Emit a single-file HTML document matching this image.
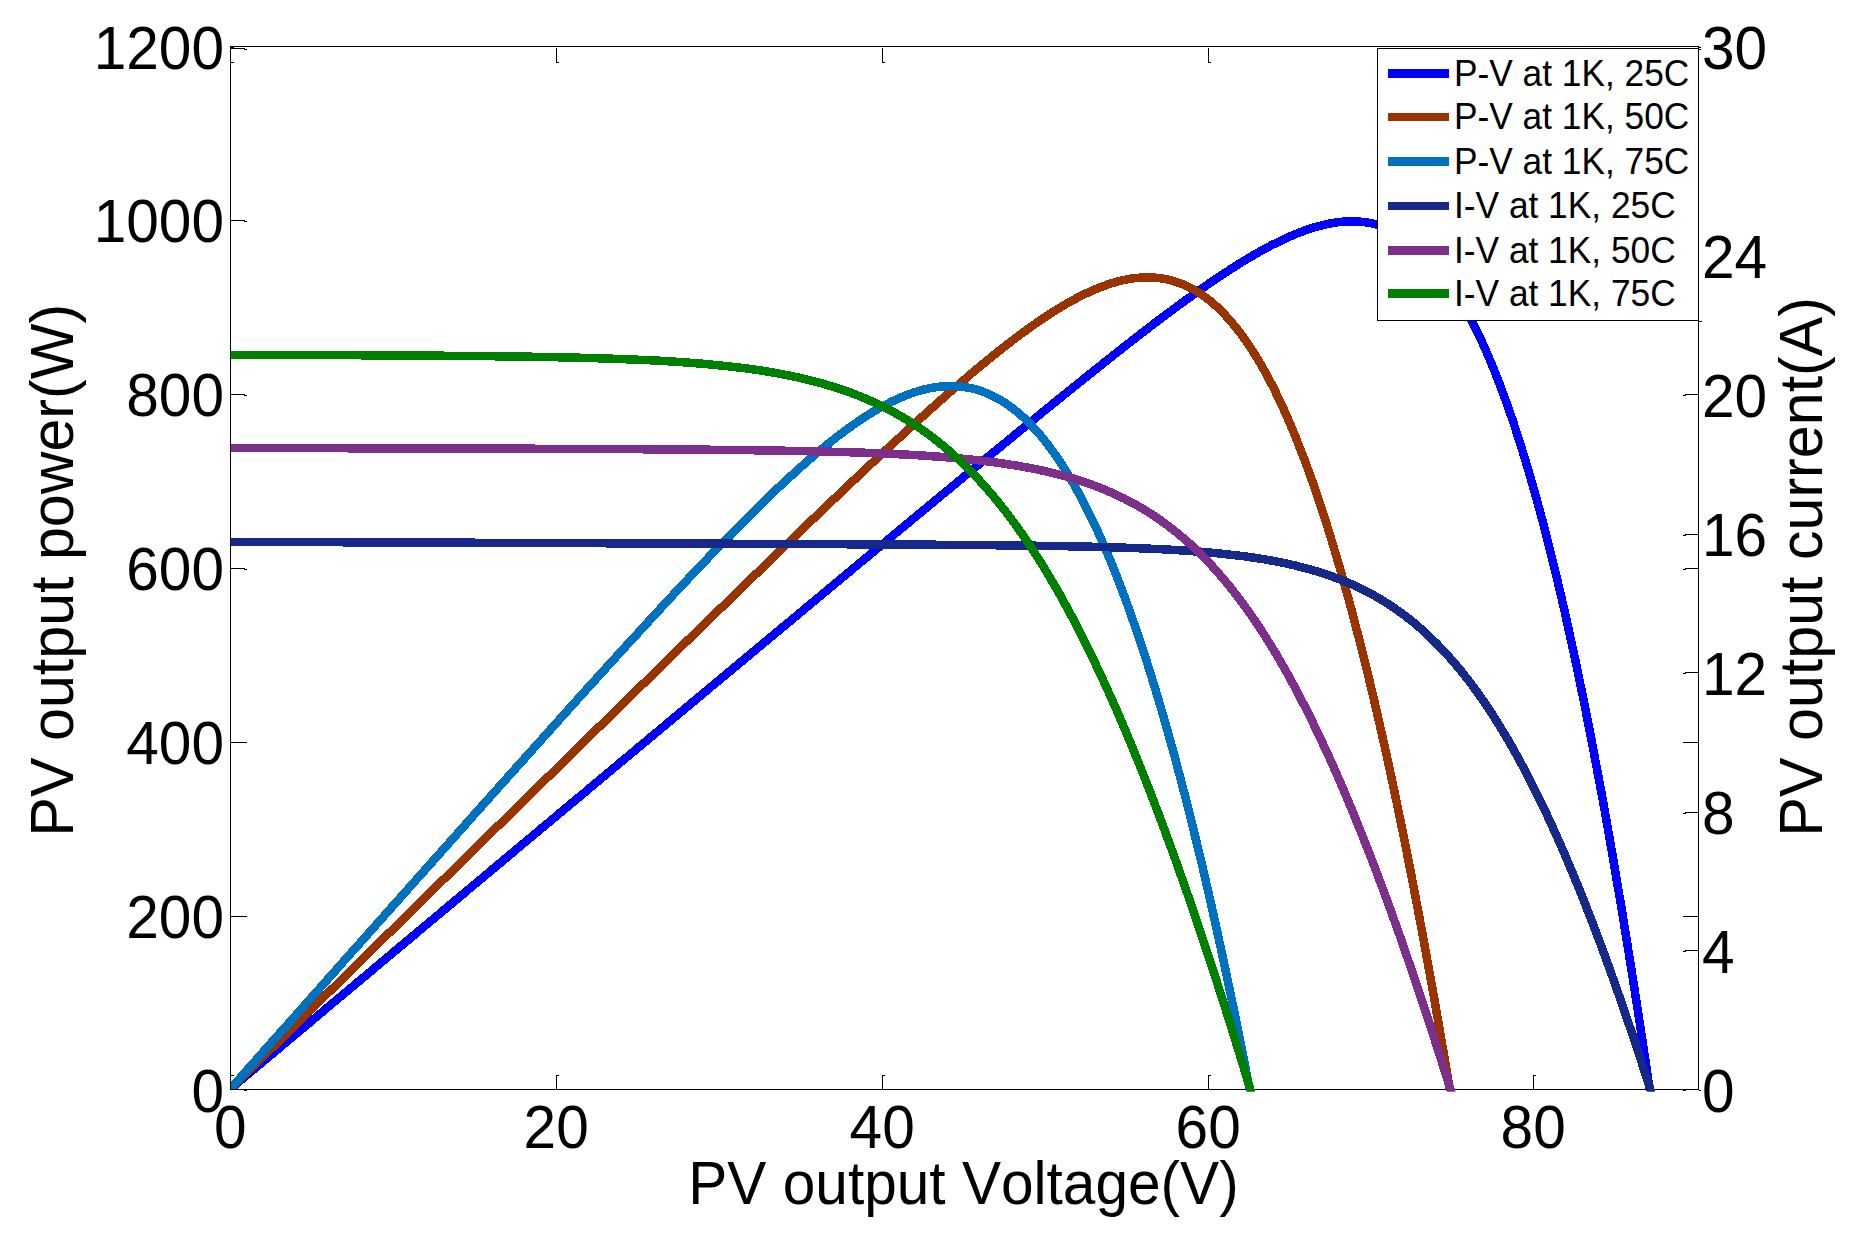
<!DOCTYPE html>
<html lang="en"><head><meta charset="utf-8"><title>PV output characteristics</title>
<style>html,body{margin:0;padding:0;background:#fff;}body{width:1855px;height:1237px;overflow:hidden;}</style></head>
<body>
<svg width="1855" height="1237" viewBox="0 0 1855 1237" style="display:block">
<rect width="1855" height="1237" fill="#fff"/>
<defs><clipPath id="c"><rect x="230" y="46" width="1469" height="1045.5"/></clipPath><clipPath id="c1"><rect x="231" y="46" width="1468" height="1044"/></clipPath></defs>
<g clip-path="url(#c1)" fill="none" stroke-linejoin="round" shape-rendering="crispEdges">
<defs><path id="pv25" d="M229.8 1089.5 L231.9 1087.7 L234.1 1085.9 L236.4 1084.0 L238.6 1082.1 L240.8 1080.2 L243.1 1078.4 L245.3 1076.5 L247.5 1074.6 L249.7 1072.8 L252.0 1070.9 L254.2 1069.0 L256.4 1067.2 L258.7 1065.3 L260.9 1063.4 L263.1 1061.5 L265.3 1059.7 L267.6 1057.8 L269.8 1055.9 L272.0 1054.1 L274.3 1052.2 L276.5 1050.3 L278.7 1048.5 L280.9 1046.6 L283.2 1044.7 L285.4 1042.8 L287.6 1041.0 L289.9 1039.1 L292.1 1037.2 L294.3 1035.4 L296.5 1033.5 L298.8 1031.6 L301.0 1029.8 L303.2 1027.9 L305.5 1026.0 L307.7 1024.2 L309.9 1022.3 L312.1 1020.4 L314.4 1018.5 L316.6 1016.7 L318.8 1014.8 L321.1 1012.9 L323.3 1011.1 L325.5 1009.2 L327.7 1007.3 L330.0 1005.5 L332.2 1003.6 L334.4 1001.7 L336.7 999.9 L338.9 998.0 L341.1 996.1 L343.3 994.3 L345.6 992.4 L347.8 990.5 L350.0 988.7 L352.3 986.8 L354.5 984.9 L356.7 983.1 L358.9 981.2 L361.2 979.3 L363.4 977.5 L365.6 975.6 L367.9 973.7 L370.1 971.9 L372.3 970.0 L374.5 968.1 L376.8 966.2 L379.0 964.4 L381.2 962.5 L383.5 960.6 L385.7 958.8 L387.9 956.9 L390.2 955.0 L392.4 953.2 L394.6 951.3 L396.8 949.4 L399.1 947.6 L401.3 945.7 L403.5 943.8 L405.8 942.0 L408.0 940.1 L410.2 938.2 L412.4 936.4 L414.7 934.5 L416.9 932.7 L419.1 930.8 L421.4 928.9 L423.6 927.1 L425.8 925.2 L428.0 923.3 L430.3 921.5 L432.5 919.6 L434.7 917.7 L437.0 915.9 L439.2 914.0 L441.4 912.1 L443.6 910.3 L445.9 908.4 L448.1 906.5 L450.3 904.7 L452.6 902.8 L454.8 900.9 L457.0 899.1 L459.2 897.2 L461.5 895.3 L463.7 893.5 L465.9 891.6 L468.2 889.7 L470.4 887.9 L472.6 886.0 L474.8 884.2 L477.1 882.3 L479.3 880.4 L481.5 878.6 L483.8 876.7 L486.0 874.8 L488.2 873.0 L490.4 871.1 L492.7 869.2 L494.9 867.4 L497.1 865.5 L499.4 863.6 L501.6 861.8 L503.8 859.9 L506.0 858.1 L508.3 856.2 L510.5 854.3 L512.7 852.5 L515.0 850.6 L517.2 848.7 L519.4 846.9 L521.6 845.0 L523.9 843.1 L526.1 841.3 L528.3 839.4 L530.6 837.6 L532.8 835.7 L535.0 833.8 L537.2 832.0 L539.5 830.1 L541.7 828.2 L543.9 826.4 L546.2 824.5 L548.4 822.7 L550.6 820.8 L552.9 818.9 L555.1 817.1 L557.3 815.2 L559.5 813.3 L561.8 811.5 L564.0 809.6 L566.2 807.8 L568.5 805.9 L570.7 804.0 L572.9 802.2 L575.1 800.3 L577.4 798.4 L579.6 796.6 L581.8 794.7 L584.1 792.9 L586.3 791.0 L588.5 789.1 L590.7 787.3 L593.0 785.4 L595.2 783.6 L597.4 781.7 L599.7 779.8 L601.9 778.0 L604.1 776.1 L606.3 774.2 L608.6 772.4 L610.8 770.5 L613.0 768.7 L615.3 766.8 L617.5 764.9 L619.7 763.1 L621.9 761.2 L624.2 759.4 L626.4 757.5 L628.6 755.6 L630.9 753.8 L633.1 751.9 L635.3 750.1 L637.5 748.2 L639.8 746.3 L642.0 744.5 L644.2 742.6 L646.5 740.8 L648.7 738.9 L650.9 737.0 L653.1 735.2 L655.4 733.3 L657.6 731.5 L659.8 729.6 L662.1 727.7 L664.3 725.9 L666.5 724.0 L668.7 722.2 L671.0 720.3 L673.2 718.4 L675.4 716.6 L677.7 714.7 L679.9 712.9 L682.1 711.0 L684.3 709.2 L686.6 707.3 L688.8 705.4 L691.0 703.6 L693.3 701.7 L695.5 699.9 L697.7 698.0 L700.0 696.1 L702.2 694.3 L704.4 692.4 L706.6 690.6 L708.9 688.7 L711.1 686.8 L713.3 685.0 L715.6 683.1 L717.8 681.3 L720.0 679.4 L722.2 677.6 L724.5 675.7 L726.7 673.8 L728.9 672.0 L731.2 670.1 L733.4 668.3 L735.6 666.4 L737.8 664.6 L740.1 662.7 L742.3 660.8 L744.5 659.0 L746.8 657.1 L749.0 655.3 L751.2 653.4 L753.4 651.6 L755.7 649.7 L757.9 647.8 L760.1 646.0 L762.4 644.1 L764.6 642.3 L766.8 640.4 L769.0 638.6 L771.3 636.7 L773.5 634.9 L775.7 633.0 L778.0 631.1 L780.2 629.3 L782.4 627.4 L784.6 625.6 L786.9 623.7 L789.1 621.9 L791.3 620.0 L793.6 618.2 L795.8 616.3 L798.0 614.4 L800.3 612.6 L802.5 610.7 L804.7 608.9 L806.9 607.0 L809.2 605.2 L811.4 603.3 L813.6 601.5 L815.9 599.6 L818.1 597.8 L820.3 595.9 L822.5 594.0 L824.8 592.2 L827.0 590.3 L829.2 588.5 L831.5 586.6 L833.7 584.8 L835.9 582.9 L838.1 581.1 L840.4 579.2 L842.6 577.4 L844.8 575.5 L847.1 573.7 L849.3 571.8 L851.5 570.0 L853.7 568.1 L856.0 566.2 L858.2 564.4 L860.4 562.5 L862.7 560.7 L864.9 558.8 L867.1 557.0 L869.4 555.1 L871.6 553.3 L873.8 551.4 L876.0 549.6 L878.3 547.7 L880.5 545.9 L882.7 544.0 L885.0 542.2 L887.2 540.3 L889.4 538.5 L891.6 536.6 L893.9 534.8 L896.1 532.9 L898.3 531.1 L900.6 529.2 L902.8 527.4 L905.0 525.5 L907.3 523.7 L909.5 521.8 L911.7 520.0 L913.9 518.1 L916.2 516.3 L918.4 514.4 L920.6 512.6 L922.9 510.8 L925.1 508.9 L927.3 507.1 L929.6 505.2 L931.8 503.4 L934.0 501.5 L936.2 499.7 L938.5 497.8 L940.7 496.0 L942.9 494.1 L945.2 492.3 L947.4 490.5 L949.6 488.6 L951.9 486.8 L954.1 484.9 L956.3 483.1 L958.5 481.2 L960.8 479.4 L963.0 477.6 L965.2 475.7 L967.5 473.9 L969.7 472.0 L971.9 470.2 L974.2 468.4 L976.4 466.5 L978.6 464.7 L980.8 462.8 L983.1 461.0 L985.3 459.2 L987.5 457.3 L989.8 455.5 L992.0 453.7 L994.2 451.8 L996.5 450.0 L998.7 448.2 L1000.9 446.3 L1003.2 444.5 L1005.4 442.7 L1007.6 440.8 L1009.9 439.0 L1012.1 437.2 L1014.3 435.3 L1016.5 433.5 L1018.8 431.7 L1021.0 429.8 L1023.2 428.0 L1025.5 426.2 L1027.7 424.4 L1029.9 422.5 L1032.2 420.7 L1034.4 418.9 L1036.6 417.1 L1038.9 415.3 L1041.1 413.4 L1043.3 411.6 L1045.6 409.8 L1047.8 408.0 L1050.0 406.2 L1052.3 404.4 L1054.5 402.5 L1056.7 400.7 L1059.0 398.9 L1061.2 397.1 L1063.4 395.3 L1065.7 393.5 L1067.9 391.7 L1070.1 389.9 L1072.4 388.1 L1074.6 386.3 L1076.9 384.5 L1079.1 382.7 L1081.3 380.9 L1083.6 379.1 L1085.8 377.3 L1088.0 375.5 L1090.3 373.7 L1092.5 371.9 L1094.7 370.1 L1097.0 368.3 L1099.2 366.6 L1101.5 364.8 L1103.7 363.0 L1105.9 361.2 L1108.2 359.4 L1110.4 357.7 L1112.6 355.9 L1114.9 354.1 L1117.1 352.4 L1119.4 350.6 L1121.6 348.8 L1123.8 347.1 L1126.1 345.3 L1128.3 343.6 L1130.6 341.8 L1132.8 340.1 L1135.1 338.3 L1137.3 336.6 L1139.5 334.9 L1141.8 333.1 L1144.0 331.4 L1146.3 329.7 L1148.5 328.0 L1150.8 326.2 L1153.0 324.5 L1155.2 322.8 L1157.5 321.1 L1159.7 319.4 L1162.0 317.7 L1164.2 316.0 L1166.5 314.3 L1168.7 312.7 L1171.0 311.0 L1173.2 309.3 L1175.5 307.7 L1177.7 306.0 L1180.0 304.3 L1182.2 302.7 L1184.5 301.0 L1186.7 299.4 L1189.0 297.8 L1191.3 296.2 L1193.5 294.5 L1195.8 292.9 L1198.0 291.3 L1200.3 289.7 L1202.5 288.1 L1204.8 286.6 L1207.1 285.0 L1209.3 283.4 L1211.6 281.9 L1213.9 280.3 L1216.1 278.8 L1218.4 277.3 L1220.6 275.8 L1222.9 274.3 L1225.2 272.8 L1227.5 271.3 L1229.7 269.8 L1232.0 268.3 L1234.3 266.9 L1236.5 265.5 L1238.8 264.0 L1241.1 262.6 L1243.4 261.2 L1245.7 259.8 L1247.9 258.5 L1250.2 257.1 L1252.5 255.8 L1254.8 254.4 L1257.1 253.1 L1259.4 251.8 L1261.7 250.5 L1264.0 249.3 L1266.3 248.0 L1268.5 246.8 L1270.8 245.6 L1273.1 244.4 L1275.5 243.3 L1277.8 242.1 L1280.1 241.0 L1282.4 239.9 L1284.7 238.8 L1287.0 237.8 L1289.3 236.7 L1291.6 235.7 L1294.0 234.7 L1296.3 233.8 L1298.6 232.9 L1300.9 232.0 L1303.3 231.1 L1305.6 230.2 L1307.9 229.4 L1310.3 228.7 L1312.6 227.9 L1315.0 227.2 L1317.3 226.5 L1319.7 225.9 L1322.0 225.3 L1324.4 224.7 L1326.8 224.2 L1329.1 223.7 L1331.5 223.3 L1333.9 222.8 L1336.3 222.5 L1338.6 222.2 L1341.0 221.9 L1343.4 221.7 L1345.8 221.5 L1348.2 221.4 L1350.6 221.4 L1353.1 221.3 L1355.5 221.4 L1357.9 221.5 L1360.3 221.7 L1362.8 221.9 L1365.2 222.2 L1367.7 222.5 L1370.1 223.0 L1372.6 223.5 L1375.0 224.0 L1377.5 224.7 L1380.0 225.4 L1382.5 226.2 L1385.0 227.1 L1387.5 228.0 L1390.0 229.1 L1392.5 230.2 L1395.0 231.4 L1397.6 232.8 L1400.1 234.2 L1402.7 235.7 L1405.2 237.4 L1407.8 239.1 L1410.4 240.9 L1413.0 242.9 L1415.6 245.0 L1418.2 247.2 L1420.8 249.5 L1423.4 252.0 L1426.1 254.5 L1428.7 257.3 L1431.4 260.1 L1434.1 263.1 L1436.8 266.3 L1439.5 269.6 L1442.2 273.1 L1445.0 276.8 L1447.7 280.6 L1450.5 284.6 L1453.3 288.7 L1456.1 293.1 L1458.9 297.7 L1461.7 302.4 L1464.5 307.4 L1467.4 312.6 L1470.3 318.0 L1473.2 323.6 L1476.1 329.5 L1479.0 335.6 L1482.0 341.9 L1485.0 348.5 L1488.0 355.4 L1491.0 362.5 L1494.1 370.0 L1497.1 377.7 L1500.2 385.7 L1503.3 394.1 L1506.5 402.7 L1509.7 411.7 L1512.9 421.1 L1516.1 430.8 L1519.3 440.9 L1522.6 451.3 L1525.9 462.1 L1529.3 473.4 L1532.6 485.0 L1536.0 497.1 L1539.5 509.7 L1543.0 522.7 L1546.5 536.1 L1550.0 550.1 L1553.6 564.6 L1557.2 579.6 L1560.9 595.2 L1564.6 611.3 L1568.3 628.0 L1572.1 645.3 L1576.0 663.2 L1579.8 681.7 L1583.8 701.0 L1587.7 720.9 L1591.8 741.5 L1595.8 762.9 L1600.0 785.0 L1604.2 807.9 L1608.4 831.7 L1612.7 856.3 L1617.0 881.7 L1621.5 908.1 L1625.9 935.4 L1630.5 963.7 L1635.1 992.9 L1639.8 1023.2 L1644.5 1054.6 L1649.3 1087.2 L1654.2 1120.8 L1659.2 1155.7 L1664.2 1191.8"/></defs><use href="#pv25" stroke="#0000ff" stroke-width="6.5" shape-rendering="auto"/><use href="#pv25" stroke="#0000ff" stroke-width="8.5" shape-rendering="crispEdges"/>
<defs><path id="pv50" d="M229.8 1089.5 L231.7 1087.6 L233.7 1085.7 L235.6 1083.8 L237.6 1081.9 L239.5 1080.0 L241.4 1078.1 L243.4 1076.1 L245.3 1074.2 L247.3 1072.3 L249.2 1070.4 L251.2 1068.5 L253.1 1066.6 L255.0 1064.7 L257.0 1062.8 L258.9 1060.9 L260.9 1059.0 L262.8 1057.0 L264.7 1055.1 L266.7 1053.2 L268.6 1051.3 L270.6 1049.4 L272.5 1047.5 L274.5 1045.6 L276.4 1043.7 L278.3 1041.8 L280.3 1039.9 L282.2 1038.0 L284.2 1036.1 L286.1 1034.1 L288.1 1032.2 L290.0 1030.3 L291.9 1028.4 L293.9 1026.5 L295.8 1024.6 L297.8 1022.7 L299.7 1020.8 L301.7 1018.9 L303.6 1017.0 L305.5 1015.1 L307.5 1013.1 L309.4 1011.2 L311.4 1009.3 L313.3 1007.4 L315.2 1005.5 L317.2 1003.6 L319.1 1001.7 L321.1 999.8 L323.0 997.9 L325.0 996.0 L326.9 994.1 L328.8 992.2 L330.8 990.2 L332.7 988.3 L334.7 986.4 L336.6 984.5 L338.6 982.6 L340.5 980.7 L342.4 978.8 L344.4 976.9 L346.3 975.0 L348.3 973.1 L350.2 971.2 L352.1 969.3 L354.1 967.3 L356.0 965.4 L358.0 963.5 L359.9 961.6 L361.9 959.7 L363.8 957.8 L365.7 955.9 L367.7 954.0 L369.6 952.1 L371.6 950.2 L373.5 948.3 L375.5 946.4 L377.4 944.5 L379.3 942.5 L381.3 940.6 L383.2 938.7 L385.2 936.8 L387.1 934.9 L389.0 933.0 L391.0 931.1 L392.9 929.2 L394.9 927.3 L396.8 925.4 L398.8 923.5 L400.7 921.6 L402.6 919.7 L404.6 917.7 L406.5 915.8 L408.5 913.9 L410.4 912.0 L412.4 910.1 L414.3 908.2 L416.2 906.3 L418.2 904.4 L420.1 902.5 L422.1 900.6 L424.0 898.7 L426.0 896.8 L427.9 894.9 L429.8 893.0 L431.8 891.0 L433.7 889.1 L435.7 887.2 L437.6 885.3 L439.5 883.4 L441.5 881.5 L443.4 879.6 L445.4 877.7 L447.3 875.8 L449.3 873.9 L451.2 872.0 L453.1 870.1 L455.1 868.2 L457.0 866.3 L459.0 864.4 L460.9 862.4 L462.9 860.5 L464.8 858.6 L466.7 856.7 L468.7 854.8 L470.6 852.9 L472.6 851.0 L474.5 849.1 L476.5 847.2 L478.4 845.3 L480.3 843.4 L482.3 841.5 L484.2 839.6 L486.2 837.7 L488.1 835.8 L490.0 833.9 L492.0 832.0 L493.9 830.0 L495.9 828.1 L497.8 826.2 L499.8 824.3 L501.7 822.4 L503.6 820.5 L505.6 818.6 L507.5 816.7 L509.5 814.8 L511.4 812.9 L513.4 811.0 L515.3 809.1 L517.2 807.2 L519.2 805.3 L521.1 803.4 L523.1 801.5 L525.0 799.6 L527.0 797.7 L528.9 795.8 L530.8 793.8 L532.8 791.9 L534.7 790.0 L536.7 788.1 L538.6 786.2 L540.6 784.3 L542.5 782.4 L544.4 780.5 L546.4 778.6 L548.3 776.7 L550.3 774.8 L552.2 772.9 L554.2 771.0 L556.1 769.1 L558.0 767.2 L560.0 765.3 L561.9 763.4 L563.9 761.5 L565.8 759.6 L567.8 757.7 L569.7 755.8 L571.6 753.9 L573.6 752.0 L575.5 750.1 L577.5 748.2 L579.4 746.2 L581.4 744.3 L583.3 742.4 L585.2 740.5 L587.2 738.6 L589.1 736.7 L591.1 734.8 L593.0 732.9 L595.0 731.0 L596.9 729.1 L598.8 727.2 L600.8 725.3 L602.7 723.4 L604.7 721.5 L606.6 719.6 L608.6 717.7 L610.5 715.8 L612.4 713.9 L614.4 712.0 L616.3 710.1 L618.3 708.2 L620.2 706.3 L622.2 704.4 L624.1 702.5 L626.0 700.6 L628.0 698.7 L629.9 696.8 L631.9 694.9 L633.8 693.0 L635.8 691.1 L637.7 689.2 L639.7 687.3 L641.6 685.4 L643.5 683.5 L645.5 681.6 L647.4 679.7 L649.4 677.8 L651.3 675.9 L653.3 674.0 L655.2 672.1 L657.1 670.2 L659.1 668.3 L661.0 666.4 L663.0 664.5 L664.9 662.6 L666.9 660.7 L668.8 658.8 L670.8 656.9 L672.7 655.0 L674.6 653.1 L676.6 651.2 L678.5 649.3 L680.5 647.4 L682.4 645.5 L684.4 643.6 L686.3 641.7 L688.2 639.8 L690.2 638.0 L692.1 636.1 L694.1 634.2 L696.0 632.3 L698.0 630.4 L699.9 628.5 L701.9 626.6 L703.8 624.7 L705.7 622.8 L707.7 620.9 L709.6 619.0 L711.6 617.1 L713.5 615.2 L715.5 613.3 L717.4 611.4 L719.4 609.5 L721.3 607.7 L723.3 605.8 L725.2 603.9 L727.1 602.0 L729.1 600.1 L731.0 598.2 L733.0 596.3 L734.9 594.4 L736.9 592.5 L738.8 590.6 L740.8 588.8 L742.7 586.9 L744.7 585.0 L746.6 583.1 L748.5 581.2 L750.5 579.3 L752.4 577.4 L754.4 575.5 L756.3 573.7 L758.3 571.8 L760.2 569.9 L762.2 568.0 L764.1 566.1 L766.1 564.2 L768.0 562.4 L770.0 560.5 L771.9 558.6 L773.9 556.7 L775.8 554.8 L777.7 552.9 L779.7 551.1 L781.6 549.2 L783.6 547.3 L785.5 545.4 L787.5 543.6 L789.4 541.7 L791.4 539.8 L793.3 537.9 L795.3 536.1 L797.2 534.2 L799.2 532.3 L801.1 530.4 L803.1 528.6 L805.0 526.7 L807.0 524.8 L808.9 523.0 L810.9 521.1 L812.8 519.2 L814.8 517.3 L816.7 515.5 L818.7 513.6 L820.6 511.7 L822.6 509.9 L824.5 508.0 L826.5 506.2 L828.4 504.3 L830.4 502.4 L832.3 500.6 L834.3 498.7 L836.2 496.9 L838.2 495.0 L840.1 493.2 L842.1 491.3 L844.0 489.4 L846.0 487.6 L847.9 485.7 L849.9 483.9 L851.8 482.0 L853.8 480.2 L855.7 478.4 L857.7 476.5 L859.7 474.7 L861.6 472.8 L863.6 471.0 L865.5 469.1 L867.5 467.3 L869.4 465.5 L871.4 463.6 L873.3 461.8 L875.3 460.0 L877.2 458.2 L879.2 456.3 L881.2 454.5 L883.1 452.7 L885.1 450.9 L887.0 449.0 L889.0 447.2 L890.9 445.4 L892.9 443.6 L894.9 441.8 L896.8 440.0 L898.8 438.2 L900.7 436.4 L902.7 434.5 L904.7 432.7 L906.6 430.9 L908.6 429.2 L910.5 427.4 L912.5 425.6 L914.5 423.8 L916.4 422.0 L918.4 420.2 L920.4 418.4 L922.3 416.7 L924.3 414.9 L926.3 413.1 L928.2 411.3 L930.2 409.6 L932.2 407.8 L934.1 406.1 L936.1 404.3 L938.1 402.6 L940.0 400.8 L942.0 399.1 L944.0 397.3 L945.9 395.6 L947.9 393.9 L949.9 392.1 L951.8 390.4 L953.8 388.7 L955.8 387.0 L957.8 385.3 L959.7 383.6 L961.7 381.9 L963.7 380.2 L965.7 378.5 L967.7 376.8 L969.6 375.1 L971.6 373.4 L973.6 371.7 L975.6 370.1 L977.6 368.4 L979.5 366.8 L981.5 365.1 L983.5 363.5 L985.5 361.8 L987.5 360.2 L989.5 358.6 L991.5 357.0 L993.4 355.4 L995.4 353.8 L997.4 352.2 L999.4 350.6 L1001.4 349.0 L1003.4 347.4 L1005.4 345.9 L1007.4 344.3 L1009.4 342.8 L1011.4 341.3 L1013.4 339.7 L1015.4 338.2 L1017.4 336.7 L1019.4 335.2 L1021.4 333.7 L1023.4 332.2 L1025.4 330.8 L1027.4 329.3 L1029.5 327.9 L1031.5 326.4 L1033.5 325.0 L1035.5 323.6 L1037.5 322.2 L1039.5 320.8 L1041.6 319.4 L1043.6 318.1 L1045.6 316.7 L1047.6 315.4 L1049.7 314.1 L1051.7 312.8 L1053.7 311.5 L1055.8 310.2 L1057.8 308.9 L1059.8 307.7 L1061.9 306.5 L1063.9 305.2 L1066.0 304.0 L1068.0 302.9 L1070.1 301.7 L1072.1 300.6 L1074.2 299.5 L1076.2 298.4 L1078.3 297.3 L1080.4 296.2 L1082.4 295.2 L1084.5 294.2 L1086.6 293.2 L1088.7 292.2 L1090.7 291.3 L1092.8 290.3 L1094.9 289.4 L1097.0 288.6 L1099.1 287.7 L1101.2 286.9 L1103.3 286.1 L1105.4 285.4 L1107.5 284.6 L1109.6 283.9 L1111.7 283.2 L1113.8 282.6 L1115.9 282.0 L1118.1 281.4 L1120.2 280.9 L1122.3 280.4 L1124.5 279.9 L1126.6 279.5 L1128.8 279.1 L1130.9 278.7 L1133.1 278.4 L1135.2 278.1 L1137.4 277.9 L1139.6 277.7 L1141.7 277.6 L1143.9 277.5 L1146.1 277.4 L1148.3 277.4 L1150.5 277.4 L1152.7 277.5 L1154.9 277.7 L1157.2 277.9 L1159.4 278.1 L1161.6 278.4 L1163.8 278.8 L1166.1 279.2 L1168.3 279.7 L1170.6 280.3 L1172.9 280.9 L1175.2 281.6 L1177.4 282.3 L1179.7 283.2 L1182.0 284.0 L1184.3 285.0 L1186.7 286.1 L1189.0 287.2 L1191.3 288.4 L1193.7 289.7 L1196.0 291.0 L1198.4 292.5 L1200.8 294.0 L1203.1 295.7 L1205.5 297.4 L1207.9 299.2 L1210.4 301.1 L1212.8 303.2 L1215.2 305.3 L1217.7 307.5 L1220.1 309.9 L1222.6 312.4 L1225.1 315.0 L1227.6 317.7 L1230.1 320.5 L1232.6 323.5 L1235.2 326.5 L1237.7 329.8 L1240.3 333.1 L1242.9 336.6 L1245.5 340.3 L1248.1 344.1 L1250.8 348.1 L1253.4 352.2 L1256.1 356.5 L1258.8 360.9 L1261.5 365.6 L1264.2 370.4 L1266.9 375.4 L1269.7 380.6 L1272.5 385.9 L1275.3 391.5 L1278.1 397.3 L1280.9 403.3 L1283.8 409.5 L1286.7 416.0 L1289.6 422.7 L1292.5 429.6 L1295.5 436.8 L1298.4 444.2 L1301.4 451.9 L1304.5 459.8 L1307.5 468.0 L1310.6 476.5 L1313.7 485.3 L1316.9 494.5 L1320.0 503.9 L1323.2 513.6 L1326.5 523.7 L1329.7 534.1 L1333.0 544.9 L1336.3 556.0 L1339.7 567.5 L1343.1 579.4 L1346.5 591.6 L1350.0 604.3 L1353.5 617.4 L1357.0 631.0 L1360.6 645.0 L1364.2 659.4 L1367.9 674.3 L1371.6 689.7 L1375.4 705.7 L1379.1 722.1 L1383.0 739.1 L1386.9 756.6 L1390.8 774.7 L1394.8 793.4 L1398.8 812.7 L1402.9 832.7 L1407.0 853.2 L1411.2 874.5 L1415.4 896.5 L1419.7 919.1 L1424.1 942.5 L1428.5 966.7 L1433.0 991.6 L1437.5 1017.4 L1442.1 1044.0 L1446.8 1071.5 L1451.5 1099.8 L1456.3 1129.1 L1461.2 1159.4 L1466.2 1190.6"/></defs><use href="#pv50" stroke="#993300" stroke-width="6.5" shape-rendering="auto"/><use href="#pv50" stroke="#993300" stroke-width="8.5" shape-rendering="crispEdges"/>
<defs><path id="pv75" d="M229.8 1089.5 L229.9 1089.4 L231.6 1087.5 L233.2 1085.6 L234.9 1083.8 L236.6 1081.9 L238.2 1080.0 L239.9 1078.2 L241.5 1076.3 L243.2 1074.4 L244.8 1072.6 L246.5 1070.7 L248.1 1068.8 L249.8 1067.0 L251.5 1065.1 L253.1 1063.2 L254.8 1061.4 L256.4 1059.5 L258.1 1057.7 L259.7 1055.8 L261.4 1053.9 L263.0 1052.1 L264.7 1050.2 L266.4 1048.3 L268.0 1046.5 L269.7 1044.6 L271.3 1042.7 L273.0 1040.9 L274.6 1039.0 L276.3 1037.1 L278.0 1035.3 L279.6 1033.4 L281.3 1031.6 L282.9 1029.7 L284.6 1027.8 L286.2 1026.0 L287.9 1024.1 L289.5 1022.2 L291.2 1020.4 L292.9 1018.5 L294.5 1016.6 L296.2 1014.8 L297.8 1012.9 L299.5 1011.1 L301.1 1009.2 L302.8 1007.3 L304.5 1005.5 L306.1 1003.6 L307.8 1001.7 L309.4 999.9 L311.1 998.0 L312.7 996.1 L314.4 994.3 L316.0 992.4 L317.7 990.6 L319.4 988.7 L321.0 986.8 L322.7 985.0 L324.3 983.1 L326.0 981.2 L327.6 979.4 L329.3 977.5 L331.0 975.6 L332.6 973.8 L334.3 971.9 L335.9 970.1 L337.6 968.2 L339.2 966.3 L340.9 964.5 L342.5 962.6 L344.2 960.7 L345.9 958.9 L347.5 957.0 L349.2 955.2 L350.8 953.3 L352.5 951.4 L354.1 949.6 L355.8 947.7 L357.5 945.8 L359.1 944.0 L360.8 942.1 L362.4 940.3 L364.1 938.4 L365.7 936.5 L367.4 934.7 L369.0 932.8 L370.7 930.9 L372.4 929.1 L374.0 927.2 L375.7 925.4 L377.3 923.5 L379.0 921.6 L380.6 919.8 L382.3 917.9 L384.0 916.0 L385.6 914.2 L387.3 912.3 L388.9 910.5 L390.6 908.6 L392.2 906.7 L393.9 904.9 L395.6 903.0 L397.2 901.2 L398.9 899.3 L400.5 897.4 L402.2 895.6 L403.8 893.7 L405.5 891.8 L407.2 890.0 L408.8 888.1 L410.5 886.3 L412.1 884.4 L413.8 882.5 L415.4 880.7 L417.1 878.8 L418.7 877.0 L420.4 875.1 L422.1 873.2 L423.7 871.4 L425.4 869.5 L427.0 867.7 L428.7 865.8 L430.3 863.9 L432.0 862.1 L433.7 860.2 L435.3 858.4 L437.0 856.5 L438.6 854.6 L440.3 852.8 L441.9 850.9 L443.6 849.1 L445.3 847.2 L446.9 845.3 L448.6 843.5 L450.2 841.6 L451.9 839.8 L453.6 837.9 L455.2 836.0 L456.9 834.2 L458.5 832.3 L460.2 830.5 L461.8 828.6 L463.5 826.7 L465.2 824.9 L466.8 823.0 L468.5 821.2 L470.1 819.3 L471.8 817.5 L473.4 815.6 L475.1 813.7 L476.8 811.9 L478.4 810.0 L480.1 808.2 L481.7 806.3 L483.4 804.5 L485.1 802.6 L486.7 800.7 L488.4 798.9 L490.0 797.0 L491.7 795.2 L493.3 793.3 L495.0 791.5 L496.7 789.6 L498.3 787.7 L500.0 785.9 L501.6 784.0 L503.3 782.2 L505.0 780.3 L506.6 778.5 L508.3 776.6 L509.9 774.8 L511.6 772.9 L513.2 771.1 L514.9 769.2 L516.6 767.3 L518.2 765.5 L519.9 763.6 L521.5 761.8 L523.2 759.9 L524.9 758.1 L526.5 756.2 L528.2 754.4 L529.8 752.5 L531.5 750.7 L533.2 748.8 L534.8 747.0 L536.5 745.1 L538.1 743.3 L539.8 741.4 L541.5 739.6 L543.1 737.7 L544.8 735.9 L546.4 734.0 L548.1 732.2 L549.8 730.3 L551.4 728.5 L553.1 726.6 L554.7 724.8 L556.4 722.9 L558.1 721.1 L559.7 719.2 L561.4 717.4 L563.1 715.5 L564.7 713.7 L566.4 711.9 L568.0 710.0 L569.7 708.2 L571.4 706.3 L573.0 704.5 L574.7 702.6 L576.3 700.8 L578.0 698.9 L579.7 697.1 L581.3 695.3 L583.0 693.4 L584.7 691.6 L586.3 689.7 L588.0 687.9 L589.7 686.1 L591.3 684.2 L593.0 682.4 L594.6 680.5 L596.3 678.7 L598.0 676.9 L599.6 675.0 L601.3 673.2 L603.0 671.4 L604.6 669.5 L606.3 667.7 L608.0 665.9 L609.6 664.0 L611.3 662.2 L613.0 660.4 L614.6 658.5 L616.3 656.7 L617.9 654.9 L619.6 653.1 L621.3 651.2 L622.9 649.4 L624.6 647.6 L626.3 645.7 L627.9 643.9 L629.6 642.1 L631.3 640.3 L632.9 638.5 L634.6 636.6 L636.3 634.8 L638.0 633.0 L639.6 631.2 L641.3 629.4 L643.0 627.5 L644.6 625.7 L646.3 623.9 L648.0 622.1 L649.6 620.3 L651.3 618.5 L653.0 616.7 L654.6 614.8 L656.3 613.0 L658.0 611.2 L659.7 609.4 L661.3 607.6 L663.0 605.8 L664.7 604.0 L666.3 602.2 L668.0 600.4 L669.7 598.6 L671.4 596.8 L673.0 595.0 L674.7 593.2 L676.4 591.4 L678.1 589.6 L679.7 587.9 L681.4 586.1 L683.1 584.3 L684.8 582.5 L686.4 580.7 L688.1 578.9 L689.8 577.2 L691.5 575.4 L693.2 573.6 L694.8 571.8 L696.5 570.1 L698.2 568.3 L699.9 566.5 L701.5 564.7 L703.2 563.0 L704.9 561.2 L706.6 559.5 L708.3 557.7 L710.0 555.9 L711.6 554.2 L713.3 552.4 L715.0 550.7 L716.7 548.9 L718.4 547.2 L720.1 545.5 L721.7 543.7 L723.4 542.0 L725.1 540.3 L726.8 538.5 L728.5 536.8 L730.2 535.1 L731.9 533.3 L733.6 531.6 L735.2 529.9 L736.9 528.2 L738.6 526.5 L740.3 524.8 L742.0 523.1 L743.7 521.4 L745.4 519.7 L747.1 518.0 L748.8 516.3 L750.5 514.6 L752.2 512.9 L753.9 511.2 L755.6 509.6 L757.3 507.9 L759.0 506.2 L760.7 504.6 L762.4 502.9 L764.1 501.3 L765.8 499.6 L767.5 498.0 L769.2 496.3 L770.9 494.7 L772.6 493.1 L774.3 491.4 L776.0 489.8 L777.7 488.2 L779.5 486.6 L781.2 485.0 L782.9 483.4 L784.6 481.8 L786.3 480.2 L788.0 478.6 L789.7 477.0 L791.5 475.5 L793.2 473.9 L794.9 472.3 L796.6 470.8 L798.3 469.2 L800.1 467.7 L801.8 466.2 L803.5 464.6 L805.2 463.1 L807.0 461.6 L808.7 460.1 L810.4 458.6 L812.2 457.1 L813.9 455.6 L815.6 454.2 L817.4 452.7 L819.1 451.2 L820.8 449.8 L822.6 448.4 L824.3 446.9 L826.1 445.5 L827.8 444.1 L829.6 442.7 L831.3 441.3 L833.1 439.9 L834.8 438.5 L836.6 437.2 L838.3 435.8 L840.1 434.5 L841.9 433.2 L843.6 431.8 L845.4 430.5 L847.1 429.2 L848.9 428.0 L850.7 426.7 L852.5 425.4 L854.2 424.2 L856.0 423.0 L857.8 421.7 L859.6 420.5 L861.3 419.3 L863.1 418.2 L864.9 417.0 L866.7 415.9 L868.5 414.7 L870.3 413.6 L872.1 412.5 L873.9 411.4 L875.7 410.3 L877.5 409.3 L879.3 408.3 L881.1 407.2 L882.9 406.2 L884.7 405.3 L886.6 404.3 L888.4 403.4 L890.2 402.4 L892.0 401.5 L893.9 400.6 L895.7 399.8 L897.5 398.9 L899.4 398.1 L901.2 397.3 L903.1 396.5 L904.9 395.8 L906.8 395.1 L908.6 394.3 L910.5 393.7 L912.4 393.0 L914.2 392.4 L916.1 391.8 L918.0 391.2 L919.9 390.6 L921.7 390.1 L923.6 389.6 L925.5 389.2 L927.4 388.7 L929.3 388.3 L931.2 388.0 L933.1 387.6 L935.1 387.3 L937.0 387.0 L938.9 386.8 L940.8 386.6 L942.8 386.4 L944.7 386.3 L946.7 386.2 L948.6 386.1 L950.6 386.1 L952.5 386.1 L954.5 386.1 L956.5 386.2 L958.4 386.4 L960.4 386.5 L962.4 386.8 L964.4 387.0 L966.4 387.4 L968.4 387.7 L970.4 388.1 L972.5 388.6 L974.5 389.1 L976.5 389.6 L978.6 390.3 L980.6 390.9 L982.7 391.6 L984.7 392.4 L986.8 393.2 L988.9 394.1 L991.0 395.1 L993.1 396.1 L995.2 397.1 L997.3 398.3 L999.4 399.5 L1001.5 400.7 L1003.6 402.0 L1005.8 403.4 L1007.9 404.9 L1010.1 406.4 L1012.3 408.1 L1014.5 409.7 L1016.6 411.5 L1018.8 413.4 L1021.1 415.3 L1023.3 417.3 L1025.5 419.4 L1027.7 421.6 L1030.0 423.8 L1032.2 426.2 L1034.5 428.6 L1036.8 431.2 L1039.1 433.8 L1041.4 436.5 L1043.7 439.4 L1046.0 442.3 L1048.4 445.3 L1050.7 448.5 L1053.1 451.8 L1055.5 455.1 L1057.9 458.6 L1060.3 462.2 L1062.7 466.0 L1065.1 469.8 L1067.6 473.8 L1070.1 477.9 L1072.5 482.1 L1075.0 486.5 L1077.5 491.0 L1080.1 495.6 L1082.6 500.4 L1085.2 505.4 L1087.7 510.5 L1090.3 515.7 L1092.9 521.1 L1095.5 526.7 L1098.2 532.4 L1100.8 538.3 L1103.5 544.4 L1106.2 550.7 L1108.9 557.1 L1111.7 563.7 L1114.4 570.5 L1117.2 577.6 L1120.0 584.8 L1122.8 592.2 L1125.6 599.8 L1128.5 607.6 L1131.3 615.7 L1134.2 624.0 L1137.2 632.5 L1140.1 641.3 L1143.1 650.2 L1146.1 659.5 L1149.1 669.0 L1152.1 678.7 L1155.2 688.8 L1158.3 699.0 L1161.4 709.6 L1164.6 720.5 L1167.7 731.6 L1170.9 743.1 L1174.2 754.8 L1177.4 766.9 L1180.7 779.3 L1184.0 792.0 L1187.4 805.1 L1190.7 818.5 L1194.1 832.3 L1197.6 846.4 L1201.1 860.9 L1204.6 875.8 L1208.1 891.1 L1211.7 906.8 L1215.3 922.9 L1218.9 939.4 L1222.6 956.4 L1226.3 973.8 L1230.1 991.7 L1233.9 1010.0 L1237.7 1028.8 L1241.6 1048.2 L1245.5 1068.0 L1249.4 1088.3 L1253.4 1109.2 L1257.5 1130.6 L1261.6 1152.6 L1265.7 1175.1"/></defs><use href="#pv75" stroke="#0070c0" stroke-width="6.5" shape-rendering="auto"/><use href="#pv75" stroke="#0070c0" stroke-width="8.5" shape-rendering="crispEdges"/>
</g>
<g fill="#000" shape-rendering="crispEdges">
<rect x="230" y="46" width="1469" height="1"/>
<rect x="230" y="1089" width="1469" height="1"/>
<rect x="230" y="46" width="1" height="1044"/>
<rect x="1698" y="46" width="1" height="1044"/>
<rect x="556" y="1075" width="1" height="15"/>
<rect x="556" y="1075" width="3" height="1"/>
<rect x="556" y="48" width="1" height="15"/>
<rect x="556" y="62" width="3" height="1"/>
<rect x="882" y="1075" width="1" height="15"/>
<rect x="882" y="1075" width="3" height="1"/>
<rect x="882" y="48" width="1" height="15"/>
<rect x="882" y="62" width="3" height="1"/>
<rect x="1208" y="1075" width="1" height="15"/>
<rect x="1208" y="1075" width="3" height="1"/>
<rect x="1208" y="48" width="1" height="15"/>
<rect x="1208" y="62" width="3" height="1"/>
<rect x="1533" y="1075" width="1" height="15"/>
<rect x="1533" y="1075" width="3" height="1"/>
<rect x="1533" y="48" width="1" height="15"/>
<rect x="1533" y="62" width="3" height="1"/>
<rect x="230" y="916" width="15" height="1"/>
<rect x="244" y="916" width="3" height="1"/>
<rect x="1685" y="916" width="14" height="1"/>
<rect x="1683" y="916" width="3" height="1"/>
<rect x="230" y="742" width="15" height="1"/>
<rect x="244" y="742" width="3" height="1"/>
<rect x="1685" y="742" width="14" height="1"/>
<rect x="1683" y="742" width="3" height="1"/>
<rect x="230" y="568" width="15" height="1"/>
<rect x="244" y="569" width="3" height="1"/>
<rect x="1685" y="568" width="14" height="1"/>
<rect x="1683" y="569" width="3" height="1"/>
<rect x="230" y="394" width="15" height="1"/>
<rect x="244" y="395" width="3" height="1"/>
<rect x="1685" y="394" width="14" height="1"/>
<rect x="1683" y="395" width="3" height="1"/>
<rect x="230" y="220" width="15" height="1"/>
<rect x="244" y="221" width="3" height="1"/>
<rect x="1685" y="220" width="14" height="1"/>
<rect x="1683" y="221" width="3" height="1"/>
<rect x="230" y="48" width="15" height="1"/>
<rect x="1685" y="950" width="14" height="1"/>
<rect x="1683" y="951" width="3" height="1"/>
<rect x="1685" y="812" width="14" height="1"/>
<rect x="1683" y="813" width="3" height="1"/>
<rect x="1685" y="672" width="14" height="1"/>
<rect x="1683" y="673" width="3" height="1"/>
<rect x="1685" y="534" width="14" height="1"/>
<rect x="1683" y="535" width="3" height="1"/>
<rect x="1685" y="394" width="14" height="1"/>
<rect x="1683" y="395" width="3" height="1"/>
<rect x="1685" y="255" width="14" height="1"/>
<rect x="1683" y="256" width="3" height="1"/>
<rect x="230" y="62" width="4" height="1"/>
<rect x="244" y="49" width="3" height="1"/>
<rect x="230" y="47" width="4" height="1"/>
<rect x="230" y="1075" width="4" height="1"/>
<rect x="244" y="1090" width="3" height="1"/>
<rect x="1683" y="1090" width="3" height="1"/>
<rect x="1699" y="1090" width="2" height="1"/>
<rect x="1699" y="47" width="2" height="1"/>
<rect x="1699" y="49" width="2" height="1"/>
<rect x="1699" y="321" width="3" height="1"/>
</g>
<g clip-path="url(#c)" fill="none" stroke-linejoin="round" shape-rendering="crispEdges">
<defs><path id="iv25" d="M230.5 541.8 L232.6 541.8 L234.8 541.8 L237.1 541.9 L239.3 541.9 L241.5 541.9 L243.8 541.9 L246.0 541.9 L248.2 541.9 L250.4 541.9 L252.7 541.9 L254.9 541.9 L257.1 541.9 L259.4 541.9 L261.6 541.9 L263.8 542.0 L266.0 542.0 L268.3 542.0 L270.5 542.0 L272.7 542.0 L275.0 542.0 L277.2 542.0 L279.4 542.0 L281.6 542.0 L283.9 542.0 L286.1 542.0 L288.3 542.0 L290.6 542.1 L292.8 542.1 L295.0 542.1 L297.2 542.1 L299.5 542.1 L301.7 542.1 L303.9 542.1 L306.2 542.1 L308.4 542.1 L310.6 542.1 L312.8 542.1 L315.1 542.1 L317.3 542.2 L319.5 542.2 L321.8 542.2 L324.0 542.2 L326.2 542.2 L328.4 542.2 L330.7 542.2 L332.9 542.2 L335.1 542.2 L337.4 542.2 L339.6 542.2 L341.8 542.2 L344.0 542.3 L346.3 542.3 L348.5 542.3 L350.7 542.3 L353.0 542.3 L355.2 542.3 L357.4 542.3 L359.6 542.3 L361.9 542.3 L364.1 542.3 L366.3 542.3 L368.6 542.3 L370.8 542.4 L373.0 542.4 L375.2 542.4 L377.5 542.4 L379.7 542.4 L381.9 542.4 L384.2 542.4 L386.4 542.4 L388.6 542.4 L390.9 542.4 L393.1 542.4 L395.3 542.4 L397.5 542.5 L399.8 542.5 L402.0 542.5 L404.2 542.5 L406.5 542.5 L408.7 542.5 L410.9 542.5 L413.1 542.5 L415.4 542.5 L417.6 542.5 L419.8 542.5 L422.1 542.6 L424.3 542.6 L426.5 542.6 L428.7 542.6 L431.0 542.6 L433.2 542.6 L435.4 542.6 L437.7 542.6 L439.9 542.6 L442.1 542.6 L444.3 542.6 L446.6 542.6 L448.8 542.7 L451.0 542.7 L453.3 542.7 L455.5 542.7 L457.7 542.7 L459.9 542.7 L462.2 542.7 L464.4 542.7 L466.6 542.7 L468.9 542.7 L471.1 542.7 L473.3 542.7 L475.5 542.8 L477.8 542.8 L480.0 542.8 L482.2 542.8 L484.5 542.8 L486.7 542.8 L488.9 542.8 L491.1 542.8 L493.4 542.8 L495.6 542.8 L497.8 542.8 L500.1 542.8 L502.3 542.9 L504.5 542.9 L506.7 542.9 L509.0 542.9 L511.2 542.9 L513.4 542.9 L515.7 542.9 L517.9 542.9 L520.1 542.9 L522.3 542.9 L524.6 542.9 L526.8 542.9 L529.0 543.0 L531.3 543.0 L533.5 543.0 L535.7 543.0 L537.9 543.0 L540.2 543.0 L542.4 543.0 L544.6 543.0 L546.9 543.0 L549.1 543.0 L551.3 543.0 L553.6 543.1 L555.8 543.1 L558.0 543.1 L560.2 543.1 L562.5 543.1 L564.7 543.1 L566.9 543.1 L569.2 543.1 L571.4 543.1 L573.6 543.1 L575.8 543.1 L578.1 543.1 L580.3 543.2 L582.5 543.2 L584.8 543.2 L587.0 543.2 L589.2 543.2 L591.4 543.2 L593.7 543.2 L595.9 543.2 L598.1 543.2 L600.4 543.2 L602.6 543.2 L604.8 543.2 L607.0 543.3 L609.3 543.3 L611.5 543.3 L613.7 543.3 L616.0 543.3 L618.2 543.3 L620.4 543.3 L622.6 543.3 L624.9 543.3 L627.1 543.3 L629.3 543.3 L631.6 543.4 L633.8 543.4 L636.0 543.4 L638.2 543.4 L640.5 543.4 L642.7 543.4 L644.9 543.4 L647.2 543.4 L649.4 543.4 L651.6 543.4 L653.8 543.4 L656.1 543.4 L658.3 543.5 L660.5 543.5 L662.8 543.5 L665.0 543.5 L667.2 543.5 L669.4 543.5 L671.7 543.5 L673.9 543.5 L676.1 543.5 L678.4 543.5 L680.6 543.5 L682.8 543.6 L685.0 543.6 L687.3 543.6 L689.5 543.6 L691.7 543.6 L694.0 543.6 L696.2 543.6 L698.4 543.6 L700.7 543.6 L702.9 543.6 L705.1 543.6 L707.3 543.6 L709.6 543.7 L711.8 543.7 L714.0 543.7 L716.3 543.7 L718.5 543.7 L720.7 543.7 L722.9 543.7 L725.2 543.7 L727.4 543.7 L729.6 543.7 L731.9 543.7 L734.1 543.8 L736.3 543.8 L738.5 543.8 L740.8 543.8 L743.0 543.8 L745.2 543.8 L747.5 543.8 L749.7 543.8 L751.9 543.8 L754.1 543.8 L756.4 543.8 L758.6 543.9 L760.8 543.9 L763.1 543.9 L765.3 543.9 L767.5 543.9 L769.7 543.9 L772.0 543.9 L774.2 543.9 L776.4 543.9 L778.7 543.9 L780.9 544.0 L783.1 544.0 L785.3 544.0 L787.6 544.0 L789.8 544.0 L792.0 544.0 L794.3 544.0 L796.5 544.0 L798.7 544.0 L801.0 544.0 L803.2 544.0 L805.4 544.1 L807.6 544.1 L809.9 544.1 L812.1 544.1 L814.3 544.1 L816.6 544.1 L818.8 544.1 L821.0 544.1 L823.2 544.1 L825.5 544.1 L827.7 544.2 L829.9 544.2 L832.2 544.2 L834.4 544.2 L836.6 544.2 L838.8 544.2 L841.1 544.2 L843.3 544.2 L845.5 544.2 L847.8 544.3 L850.0 544.3 L852.2 544.3 L854.4 544.3 L856.7 544.3 L858.9 544.3 L861.1 544.3 L863.4 544.3 L865.6 544.3 L867.8 544.4 L870.1 544.4 L872.3 544.4 L874.5 544.4 L876.7 544.4 L879.0 544.4 L881.2 544.4 L883.4 544.4 L885.7 544.4 L887.9 544.5 L890.1 544.5 L892.3 544.5 L894.6 544.5 L896.8 544.5 L899.0 544.5 L901.3 544.5 L903.5 544.6 L905.7 544.6 L908.0 544.6 L910.2 544.6 L912.4 544.6 L914.6 544.6 L916.9 544.6 L919.1 544.6 L921.3 544.7 L923.6 544.7 L925.8 544.7 L928.0 544.7 L930.3 544.7 L932.5 544.7 L934.7 544.7 L936.9 544.8 L939.2 544.8 L941.4 544.8 L943.6 544.8 L945.9 544.8 L948.1 544.8 L950.3 544.9 L952.6 544.9 L954.8 544.9 L957.0 544.9 L959.2 544.9 L961.5 544.9 L963.7 545.0 L965.9 545.0 L968.2 545.0 L970.4 545.0 L972.6 545.0 L974.9 545.1 L977.1 545.1 L979.3 545.1 L981.5 545.1 L983.8 545.1 L986.0 545.2 L988.2 545.2 L990.5 545.2 L992.7 545.2 L994.9 545.2 L997.2 545.3 L999.4 545.3 L1001.6 545.3 L1003.9 545.3 L1006.1 545.4 L1008.3 545.4 L1010.6 545.4 L1012.8 545.4 L1015.0 545.5 L1017.2 545.5 L1019.5 545.5 L1021.7 545.5 L1023.9 545.6 L1026.2 545.6 L1028.4 545.6 L1030.6 545.7 L1032.9 545.7 L1035.1 545.7 L1037.3 545.8 L1039.6 545.8 L1041.8 545.8 L1044.0 545.9 L1046.3 545.9 L1048.5 545.9 L1050.7 546.0 L1053.0 546.0 L1055.2 546.0 L1057.4 546.1 L1059.7 546.1 L1061.9 546.1 L1064.1 546.2 L1066.4 546.2 L1068.6 546.3 L1070.8 546.3 L1073.1 546.4 L1075.3 546.4 L1077.6 546.4 L1079.8 546.5 L1082.0 546.5 L1084.3 546.6 L1086.5 546.6 L1088.7 546.7 L1091.0 546.7 L1093.2 546.8 L1095.4 546.9 L1097.7 546.9 L1099.9 547.0 L1102.2 547.0 L1104.4 547.1 L1106.6 547.2 L1108.9 547.2 L1111.1 547.3 L1113.3 547.4 L1115.6 547.4 L1117.8 547.5 L1120.1 547.6 L1122.3 547.6 L1124.5 547.7 L1126.8 547.8 L1129.0 547.9 L1131.3 547.9 L1133.5 548.0 L1135.8 548.1 L1138.0 548.2 L1140.2 548.3 L1142.5 548.4 L1144.7 548.5 L1147.0 548.6 L1149.2 548.7 L1151.5 548.8 L1153.7 548.9 L1155.9 549.0 L1158.2 549.1 L1160.4 549.2 L1162.7 549.3 L1164.9 549.4 L1167.2 549.6 L1169.4 549.7 L1171.7 549.8 L1173.9 550.0 L1176.2 550.1 L1178.4 550.2 L1180.7 550.4 L1182.9 550.5 L1185.2 550.7 L1187.4 550.8 L1189.7 551.0 L1192.0 551.1 L1194.2 551.3 L1196.5 551.5 L1198.7 551.6 L1201.0 551.8 L1203.2 552.0 L1205.5 552.2 L1207.8 552.4 L1210.0 552.6 L1212.3 552.8 L1214.6 553.0 L1216.8 553.2 L1219.1 553.5 L1221.3 553.7 L1223.6 553.9 L1225.9 554.2 L1228.2 554.4 L1230.4 554.7 L1232.7 554.9 L1235.0 555.2 L1237.2 555.5 L1239.5 555.7 L1241.8 556.0 L1244.1 556.3 L1246.4 556.6 L1248.6 557.0 L1250.9 557.3 L1253.2 557.6 L1255.5 557.9 L1257.8 558.3 L1260.1 558.7 L1262.4 559.0 L1264.7 559.4 L1267.0 559.8 L1269.2 560.2 L1271.5 560.6 L1273.8 561.0 L1276.2 561.5 L1278.5 561.9 L1280.8 562.4 L1283.1 562.9 L1285.4 563.3 L1287.7 563.8 L1290.0 564.4 L1292.3 564.9 L1294.7 565.4 L1297.0 566.0 L1299.3 566.6 L1301.6 567.2 L1304.0 567.8 L1306.3 568.4 L1308.6 569.0 L1311.0 569.7 L1313.3 570.4 L1315.7 571.1 L1318.0 571.8 L1320.4 572.5 L1322.7 573.3 L1325.1 574.0 L1327.5 574.8 L1329.8 575.6 L1332.2 576.5 L1334.6 577.4 L1337.0 578.3 L1339.3 579.2 L1341.7 580.1 L1344.1 581.1 L1346.5 582.1 L1348.9 583.1 L1351.3 584.1 L1353.8 585.2 L1356.2 586.3 L1358.6 587.5 L1361.0 588.7 L1363.5 589.9 L1365.9 591.1 L1368.4 592.4 L1370.8 593.7 L1373.3 595.1 L1375.7 596.4 L1378.2 597.9 L1380.7 599.3 L1383.2 600.8 L1385.7 602.4 L1388.2 604.0 L1390.7 605.6 L1393.2 607.3 L1395.7 609.1 L1398.3 610.8 L1400.8 612.7 L1403.4 614.6 L1405.9 616.5 L1408.5 618.5 L1411.1 620.5 L1413.7 622.6 L1416.3 624.8 L1418.9 627.0 L1421.5 629.3 L1424.1 631.7 L1426.8 634.1 L1429.4 636.6 L1432.1 639.2 L1434.8 641.8 L1437.5 644.5 L1440.2 647.3 L1442.9 650.2 L1445.7 653.1 L1448.4 656.2 L1451.2 659.3 L1454.0 662.5 L1456.8 665.8 L1459.6 669.2 L1462.4 672.6 L1465.2 676.2 L1468.1 679.9 L1471.0 683.7 L1473.9 687.6 L1476.8 691.6 L1479.7 695.7 L1482.7 700.0 L1485.7 704.3 L1488.7 708.8 L1491.7 713.4 L1494.8 718.2 L1497.8 723.1 L1500.9 728.1 L1504.0 733.2 L1507.2 738.5 L1510.4 744.0 L1513.6 749.6 L1516.8 755.4 L1520.0 761.3 L1523.3 767.4 L1526.6 773.7 L1530.0 780.2 L1533.3 786.8 L1536.7 793.6 L1540.2 800.6 L1543.7 807.9 L1547.2 815.3 L1550.7 822.9 L1554.3 830.8 L1557.9 838.9 L1561.6 847.2 L1565.3 855.7 L1569.0 864.5 L1572.8 873.6 L1576.7 882.9 L1580.5 892.4 L1584.5 902.3 L1588.4 912.4 L1592.5 922.8 L1596.5 933.5 L1600.7 944.5 L1604.9 955.8 L1609.1 967.5 L1613.4 979.5 L1617.7 991.8 L1622.2 1004.4 L1626.6 1017.5 L1631.2 1030.9 L1635.8 1044.7 L1640.5 1058.8 L1645.2 1073.4 L1650.0 1088.4 L1654.9 1103.8 L1659.9 1119.7 L1664.9 1136.0"/></defs><use href="#iv25" stroke="#17288b" stroke-width="6.5" shape-rendering="auto"/><use href="#iv25" stroke="#17288b" stroke-width="8.5" shape-rendering="crispEdges"/>
<defs><path id="iv50" d="M230.5 448.0 L232.4 448.0 L234.4 448.0 L236.3 448.0 L238.3 448.0 L240.2 448.0 L242.1 448.0 L244.1 448.0 L246.0 448.0 L248.0 448.0 L249.9 448.0 L251.9 448.0 L253.8 448.1 L255.7 448.1 L257.7 448.1 L259.6 448.1 L261.6 448.1 L263.5 448.1 L265.4 448.1 L267.4 448.1 L269.3 448.1 L271.3 448.1 L273.2 448.1 L275.2 448.1 L277.1 448.1 L279.0 448.1 L281.0 448.1 L282.9 448.1 L284.9 448.1 L286.8 448.1 L288.8 448.1 L290.7 448.1 L292.6 448.1 L294.6 448.1 L296.5 448.1 L298.5 448.1 L300.4 448.1 L302.4 448.2 L304.3 448.2 L306.2 448.2 L308.2 448.2 L310.1 448.2 L312.1 448.2 L314.0 448.2 L315.9 448.2 L317.9 448.2 L319.8 448.2 L321.8 448.2 L323.7 448.2 L325.7 448.2 L327.6 448.2 L329.5 448.2 L331.5 448.2 L333.4 448.2 L335.4 448.2 L337.3 448.2 L339.3 448.2 L341.2 448.2 L343.1 448.2 L345.1 448.2 L347.0 448.2 L349.0 448.3 L350.9 448.3 L352.8 448.3 L354.8 448.3 L356.7 448.3 L358.7 448.3 L360.6 448.3 L362.6 448.3 L364.5 448.3 L366.4 448.3 L368.4 448.3 L370.3 448.3 L372.3 448.3 L374.2 448.3 L376.2 448.3 L378.1 448.3 L380.0 448.3 L382.0 448.3 L383.9 448.3 L385.9 448.3 L387.8 448.3 L389.7 448.3 L391.7 448.3 L393.6 448.4 L395.6 448.4 L397.5 448.4 L399.5 448.4 L401.4 448.4 L403.3 448.4 L405.3 448.4 L407.2 448.4 L409.2 448.4 L411.1 448.4 L413.1 448.4 L415.0 448.4 L416.9 448.4 L418.9 448.4 L420.8 448.4 L422.8 448.4 L424.7 448.4 L426.7 448.4 L428.6 448.4 L430.5 448.4 L432.5 448.4 L434.4 448.5 L436.4 448.5 L438.3 448.5 L440.2 448.5 L442.2 448.5 L444.1 448.5 L446.1 448.5 L448.0 448.5 L450.0 448.5 L451.9 448.5 L453.8 448.5 L455.8 448.5 L457.7 448.5 L459.7 448.5 L461.6 448.5 L463.6 448.5 L465.5 448.5 L467.4 448.5 L469.4 448.5 L471.3 448.6 L473.3 448.6 L475.2 448.6 L477.2 448.6 L479.1 448.6 L481.0 448.6 L483.0 448.6 L484.9 448.6 L486.9 448.6 L488.8 448.6 L490.7 448.6 L492.7 448.6 L494.6 448.6 L496.6 448.6 L498.5 448.6 L500.5 448.6 L502.4 448.6 L504.3 448.7 L506.3 448.7 L508.2 448.7 L510.2 448.7 L512.1 448.7 L514.1 448.7 L516.0 448.7 L517.9 448.7 L519.9 448.7 L521.8 448.7 L523.8 448.7 L525.7 448.7 L527.7 448.7 L529.6 448.7 L531.5 448.7 L533.5 448.7 L535.4 448.8 L537.4 448.8 L539.3 448.8 L541.3 448.8 L543.2 448.8 L545.1 448.8 L547.1 448.8 L549.0 448.8 L551.0 448.8 L552.9 448.8 L554.9 448.8 L556.8 448.8 L558.7 448.8 L560.7 448.8 L562.6 448.9 L564.6 448.9 L566.5 448.9 L568.5 448.9 L570.4 448.9 L572.3 448.9 L574.3 448.9 L576.2 448.9 L578.2 448.9 L580.1 448.9 L582.1 448.9 L584.0 448.9 L585.9 449.0 L587.9 449.0 L589.8 449.0 L591.8 449.0 L593.7 449.0 L595.7 449.0 L597.6 449.0 L599.5 449.0 L601.5 449.0 L603.4 449.0 L605.4 449.0 L607.3 449.1 L609.3 449.1 L611.2 449.1 L613.1 449.1 L615.1 449.1 L617.0 449.1 L619.0 449.1 L620.9 449.1 L622.9 449.1 L624.8 449.1 L626.7 449.2 L628.7 449.2 L630.6 449.2 L632.6 449.2 L634.5 449.2 L636.5 449.2 L638.4 449.2 L640.4 449.2 L642.3 449.2 L644.2 449.3 L646.2 449.3 L648.1 449.3 L650.1 449.3 L652.0 449.3 L654.0 449.3 L655.9 449.3 L657.8 449.3 L659.8 449.4 L661.7 449.4 L663.7 449.4 L665.6 449.4 L667.6 449.4 L669.5 449.4 L671.5 449.4 L673.4 449.5 L675.3 449.5 L677.3 449.5 L679.2 449.5 L681.2 449.5 L683.1 449.5 L685.1 449.5 L687.0 449.6 L688.9 449.6 L690.9 449.6 L692.8 449.6 L694.8 449.6 L696.7 449.6 L698.7 449.7 L700.6 449.7 L702.6 449.7 L704.5 449.7 L706.4 449.7 L708.4 449.7 L710.3 449.8 L712.3 449.8 L714.2 449.8 L716.2 449.8 L718.1 449.8 L720.1 449.9 L722.0 449.9 L724.0 449.9 L725.9 449.9 L727.8 449.9 L729.8 450.0 L731.7 450.0 L733.7 450.0 L735.6 450.0 L737.6 450.1 L739.5 450.1 L741.5 450.1 L743.4 450.1 L745.4 450.1 L747.3 450.2 L749.2 450.2 L751.2 450.2 L753.1 450.2 L755.1 450.3 L757.0 450.3 L759.0 450.3 L760.9 450.4 L762.9 450.4 L764.8 450.4 L766.8 450.4 L768.7 450.5 L770.7 450.5 L772.6 450.5 L774.6 450.6 L776.5 450.6 L778.4 450.6 L780.4 450.7 L782.3 450.7 L784.3 450.7 L786.2 450.8 L788.2 450.8 L790.1 450.8 L792.1 450.9 L794.0 450.9 L796.0 450.9 L797.9 451.0 L799.9 451.0 L801.8 451.1 L803.8 451.1 L805.7 451.1 L807.7 451.2 L809.6 451.2 L811.6 451.3 L813.5 451.3 L815.5 451.3 L817.4 451.4 L819.4 451.4 L821.3 451.5 L823.3 451.5 L825.2 451.6 L827.2 451.6 L829.1 451.7 L831.1 451.7 L833.0 451.8 L835.0 451.8 L836.9 451.9 L838.9 451.9 L840.8 452.0 L842.8 452.1 L844.7 452.1 L846.7 452.2 L848.6 452.2 L850.6 452.3 L852.5 452.4 L854.5 452.4 L856.4 452.5 L858.4 452.5 L860.4 452.6 L862.3 452.7 L864.3 452.7 L866.2 452.8 L868.2 452.9 L870.1 453.0 L872.1 453.0 L874.0 453.1 L876.0 453.2 L877.9 453.3 L879.9 453.4 L881.9 453.4 L883.8 453.5 L885.8 453.6 L887.7 453.7 L889.7 453.8 L891.6 453.9 L893.6 454.0 L895.6 454.1 L897.5 454.2 L899.5 454.3 L901.4 454.4 L903.4 454.5 L905.4 454.6 L907.3 454.7 L909.3 454.8 L911.2 454.9 L913.2 455.0 L915.2 455.1 L917.1 455.2 L919.1 455.3 L921.1 455.5 L923.0 455.6 L925.0 455.7 L927.0 455.9 L928.9 456.0 L930.9 456.1 L932.9 456.3 L934.8 456.4 L936.8 456.5 L938.8 456.7 L940.7 456.8 L942.7 457.0 L944.7 457.1 L946.6 457.3 L948.6 457.5 L950.6 457.6 L952.5 457.8 L954.5 458.0 L956.5 458.1 L958.5 458.3 L960.4 458.5 L962.4 458.7 L964.4 458.9 L966.4 459.1 L968.4 459.3 L970.3 459.5 L972.3 459.7 L974.3 459.9 L976.3 460.1 L978.3 460.3 L980.2 460.6 L982.2 460.8 L984.2 461.0 L986.2 461.3 L988.2 461.5 L990.2 461.8 L992.2 462.0 L994.1 462.3 L996.1 462.5 L998.1 462.8 L1000.1 463.1 L1002.1 463.4 L1004.1 463.7 L1006.1 464.0 L1008.1 464.3 L1010.1 464.6 L1012.1 464.9 L1014.1 465.2 L1016.1 465.5 L1018.1 465.9 L1020.1 466.2 L1022.1 466.6 L1024.1 466.9 L1026.1 467.3 L1028.1 467.7 L1030.2 468.1 L1032.2 468.5 L1034.2 468.9 L1036.2 469.3 L1038.2 469.7 L1040.2 470.1 L1042.3 470.6 L1044.3 471.0 L1046.3 471.5 L1048.3 471.9 L1050.4 472.4 L1052.4 472.9 L1054.4 473.4 L1056.5 473.9 L1058.5 474.4 L1060.5 475.0 L1062.6 475.5 L1064.6 476.1 L1066.7 476.6 L1068.7 477.2 L1070.8 477.8 L1072.8 478.4 L1074.9 479.0 L1076.9 479.7 L1079.0 480.3 L1081.1 481.0 L1083.1 481.7 L1085.2 482.4 L1087.3 483.1 L1089.4 483.8 L1091.4 484.6 L1093.5 485.3 L1095.6 486.1 L1097.7 486.9 L1099.8 487.7 L1101.9 488.6 L1104.0 489.4 L1106.1 490.3 L1108.2 491.2 L1110.3 492.1 L1112.4 493.0 L1114.5 494.0 L1116.6 495.0 L1118.8 496.0 L1120.9 497.0 L1123.0 498.0 L1125.2 499.1 L1127.3 500.2 L1129.5 501.3 L1131.6 502.5 L1133.8 503.6 L1135.9 504.8 L1138.1 506.1 L1140.3 507.3 L1142.4 508.6 L1144.6 509.9 L1146.8 511.3 L1149.0 512.6 L1151.2 514.0 L1153.4 515.5 L1155.6 517.0 L1157.9 518.5 L1160.1 520.0 L1162.3 521.6 L1164.5 523.2 L1166.8 524.9 L1169.0 526.6 L1171.3 528.3 L1173.6 530.1 L1175.9 531.9 L1178.1 533.8 L1180.4 535.7 L1182.7 537.6 L1185.0 539.6 L1187.4 541.7 L1189.7 543.7 L1192.0 545.9 L1194.4 548.1 L1196.7 550.3 L1199.1 552.6 L1201.5 555.0 L1203.8 557.4 L1206.2 559.8 L1208.6 562.4 L1211.1 564.9 L1213.5 567.6 L1215.9 570.3 L1218.4 573.1 L1220.8 575.9 L1223.3 578.8 L1225.8 581.8 L1228.3 584.8 L1230.8 587.9 L1233.3 591.1 L1235.9 594.4 L1238.4 597.7 L1241.0 601.1 L1243.6 604.7 L1246.2 608.2 L1248.8 611.9 L1251.5 615.7 L1254.1 619.5 L1256.8 623.5 L1259.5 627.5 L1262.2 631.7 L1264.9 635.9 L1267.6 640.3 L1270.4 644.7 L1273.2 649.3 L1276.0 653.9 L1278.8 658.7 L1281.6 663.6 L1284.5 668.6 L1287.4 673.7 L1290.3 679.0 L1293.2 684.4 L1296.2 689.9 L1299.1 695.5 L1302.1 701.3 L1305.2 707.2 L1308.2 713.3 L1311.3 719.5 L1314.4 725.8 L1317.6 732.4 L1320.7 739.0 L1323.9 745.9 L1327.2 752.9 L1330.4 760.0 L1333.7 767.4 L1337.0 774.9 L1340.4 782.6 L1343.8 790.5 L1347.2 798.6 L1350.7 806.9 L1354.2 815.4 L1357.7 824.1 L1361.3 833.0 L1364.9 842.1 L1368.6 851.5 L1372.3 861.1 L1376.1 870.9 L1379.8 880.9 L1383.7 891.2 L1387.6 901.8 L1391.5 912.6 L1395.5 923.7 L1399.5 935.0 L1403.6 946.6 L1407.7 958.6 L1411.9 970.8 L1416.1 983.3 L1420.4 996.1 L1424.8 1009.2 L1429.2 1022.7 L1433.7 1036.4 L1438.2 1050.5 L1442.8 1065.0 L1447.5 1079.8 L1452.2 1095.0 L1457.0 1110.6 L1461.9 1126.5 L1466.9 1142.9"/></defs><use href="#iv50" stroke="#7d2f8c" stroke-width="6.5" shape-rendering="auto"/><use href="#iv50" stroke="#7d2f8c" stroke-width="8.5" shape-rendering="crispEdges"/>
<defs><path id="iv75" d="M230.5 354.8 L230.6 354.8 L232.3 354.8 L233.9 354.8 L235.6 354.8 L237.3 354.8 L238.9 354.8 L240.6 354.8 L242.2 354.8 L243.9 354.8 L245.5 354.8 L247.2 354.8 L248.8 354.8 L250.5 354.8 L252.2 354.8 L253.8 354.9 L255.5 354.9 L257.1 354.9 L258.8 354.9 L260.4 354.9 L262.1 354.9 L263.7 354.9 L265.4 354.9 L267.1 354.9 L268.7 354.9 L270.4 354.9 L272.0 354.9 L273.7 354.9 L275.3 354.9 L277.0 354.9 L278.7 354.9 L280.3 354.9 L282.0 354.9 L283.6 354.9 L285.3 355.0 L286.9 355.0 L288.6 355.0 L290.2 355.0 L291.9 355.0 L293.6 355.0 L295.2 355.0 L296.9 355.0 L298.5 355.0 L300.2 355.0 L301.8 355.0 L303.5 355.0 L305.2 355.0 L306.8 355.0 L308.5 355.0 L310.1 355.0 L311.8 355.0 L313.4 355.1 L315.1 355.1 L316.7 355.1 L318.4 355.1 L320.1 355.1 L321.7 355.1 L323.4 355.1 L325.0 355.1 L326.7 355.1 L328.3 355.1 L330.0 355.1 L331.7 355.1 L333.3 355.1 L335.0 355.1 L336.6 355.1 L338.3 355.2 L339.9 355.2 L341.6 355.2 L343.2 355.2 L344.9 355.2 L346.6 355.2 L348.2 355.2 L349.9 355.2 L351.5 355.2 L353.2 355.2 L354.8 355.2 L356.5 355.2 L358.2 355.2 L359.8 355.2 L361.5 355.3 L363.1 355.3 L364.8 355.3 L366.4 355.3 L368.1 355.3 L369.7 355.3 L371.4 355.3 L373.1 355.3 L374.7 355.3 L376.4 355.3 L378.0 355.3 L379.7 355.3 L381.3 355.4 L383.0 355.4 L384.7 355.4 L386.3 355.4 L388.0 355.4 L389.6 355.4 L391.3 355.4 L392.9 355.4 L394.6 355.4 L396.3 355.4 L397.9 355.4 L399.6 355.5 L401.2 355.5 L402.9 355.5 L404.5 355.5 L406.2 355.5 L407.9 355.5 L409.5 355.5 L411.2 355.5 L412.8 355.5 L414.5 355.5 L416.1 355.6 L417.8 355.6 L419.4 355.6 L421.1 355.6 L422.8 355.6 L424.4 355.6 L426.1 355.6 L427.7 355.6 L429.4 355.6 L431.0 355.7 L432.7 355.7 L434.4 355.7 L436.0 355.7 L437.7 355.7 L439.3 355.7 L441.0 355.7 L442.6 355.7 L444.3 355.8 L446.0 355.8 L447.6 355.8 L449.3 355.8 L450.9 355.8 L452.6 355.8 L454.3 355.8 L455.9 355.9 L457.6 355.9 L459.2 355.9 L460.9 355.9 L462.5 355.9 L464.2 355.9 L465.9 355.9 L467.5 356.0 L469.2 356.0 L470.8 356.0 L472.5 356.0 L474.1 356.0 L475.8 356.0 L477.5 356.1 L479.1 356.1 L480.8 356.1 L482.4 356.1 L484.1 356.1 L485.8 356.1 L487.4 356.2 L489.1 356.2 L490.7 356.2 L492.4 356.2 L494.0 356.2 L495.7 356.3 L497.4 356.3 L499.0 356.3 L500.7 356.3 L502.3 356.3 L504.0 356.4 L505.7 356.4 L507.3 356.4 L509.0 356.4 L510.6 356.5 L512.3 356.5 L513.9 356.5 L515.6 356.5 L517.3 356.5 L518.9 356.6 L520.6 356.6 L522.2 356.6 L523.9 356.6 L525.6 356.7 L527.2 356.7 L528.9 356.7 L530.5 356.7 L532.2 356.8 L533.9 356.8 L535.5 356.8 L537.2 356.9 L538.8 356.9 L540.5 356.9 L542.2 356.9 L543.8 357.0 L545.5 357.0 L547.1 357.0 L548.8 357.1 L550.5 357.1 L552.1 357.1 L553.8 357.2 L555.4 357.2 L557.1 357.2 L558.8 357.3 L560.4 357.3 L562.1 357.3 L563.8 357.4 L565.4 357.4 L567.1 357.4 L568.7 357.5 L570.4 357.5 L572.1 357.6 L573.7 357.6 L575.4 357.6 L577.0 357.7 L578.7 357.7 L580.4 357.8 L582.0 357.8 L583.7 357.8 L585.4 357.9 L587.0 357.9 L588.7 358.0 L590.4 358.0 L592.0 358.1 L593.7 358.1 L595.3 358.2 L597.0 358.2 L598.7 358.3 L600.3 358.3 L602.0 358.4 L603.7 358.4 L605.3 358.5 L607.0 358.5 L608.7 358.6 L610.3 358.6 L612.0 358.7 L613.7 358.8 L615.3 358.8 L617.0 358.9 L618.6 358.9 L620.3 359.0 L622.0 359.1 L623.6 359.1 L625.3 359.2 L627.0 359.3 L628.6 359.3 L630.3 359.4 L632.0 359.5 L633.6 359.5 L635.3 359.6 L637.0 359.7 L638.7 359.8 L640.3 359.8 L642.0 359.9 L643.7 360.0 L645.3 360.1 L647.0 360.1 L648.7 360.2 L650.3 360.3 L652.0 360.4 L653.7 360.5 L655.3 360.6 L657.0 360.7 L658.7 360.7 L660.4 360.8 L662.0 360.9 L663.7 361.0 L665.4 361.1 L667.0 361.2 L668.7 361.3 L670.4 361.4 L672.1 361.5 L673.7 361.6 L675.4 361.7 L677.1 361.9 L678.8 362.0 L680.4 362.1 L682.1 362.2 L683.8 362.3 L685.5 362.4 L687.1 362.6 L688.8 362.7 L690.5 362.8 L692.2 362.9 L693.9 363.1 L695.5 363.2 L697.2 363.3 L698.9 363.5 L700.6 363.6 L702.2 363.7 L703.9 363.9 L705.6 364.0 L707.3 364.2 L709.0 364.3 L710.7 364.5 L712.3 364.7 L714.0 364.8 L715.7 365.0 L717.4 365.1 L719.1 365.3 L720.8 365.5 L722.4 365.7 L724.1 365.8 L725.8 366.0 L727.5 366.2 L729.2 366.4 L730.9 366.6 L732.6 366.8 L734.3 367.0 L735.9 367.2 L737.6 367.4 L739.3 367.6 L741.0 367.8 L742.7 368.0 L744.4 368.2 L746.1 368.4 L747.8 368.7 L749.5 368.9 L751.2 369.1 L752.9 369.4 L754.6 369.6 L756.3 369.9 L758.0 370.1 L759.7 370.4 L761.4 370.6 L763.1 370.9 L764.8 371.2 L766.5 371.4 L768.2 371.7 L769.9 372.0 L771.6 372.3 L773.3 372.6 L775.0 372.9 L776.7 373.2 L778.4 373.5 L780.2 373.8 L781.9 374.1 L783.6 374.5 L785.3 374.8 L787.0 375.1 L788.7 375.5 L790.4 375.8 L792.2 376.2 L793.9 376.6 L795.6 376.9 L797.3 377.3 L799.0 377.7 L800.8 378.1 L802.5 378.5 L804.2 378.9 L805.9 379.3 L807.7 379.7 L809.4 380.1 L811.1 380.6 L812.9 381.0 L814.6 381.5 L816.3 381.9 L818.1 382.4 L819.8 382.9 L821.5 383.3 L823.3 383.8 L825.0 384.3 L826.8 384.8 L828.5 385.4 L830.3 385.9 L832.0 386.4 L833.8 387.0 L835.5 387.5 L837.3 388.1 L839.0 388.7 L840.8 389.2 L842.6 389.8 L844.3 390.5 L846.1 391.1 L847.8 391.7 L849.6 392.3 L851.4 393.0 L853.2 393.7 L854.9 394.3 L856.7 395.0 L858.5 395.7 L860.3 396.4 L862.0 397.2 L863.8 397.9 L865.6 398.7 L867.4 399.4 L869.2 400.2 L871.0 401.0 L872.8 401.8 L874.6 402.6 L876.4 403.5 L878.2 404.3 L880.0 405.2 L881.8 406.1 L883.6 407.0 L885.4 407.9 L887.3 408.8 L889.1 409.7 L890.9 410.7 L892.7 411.7 L894.6 412.7 L896.4 413.7 L898.2 414.7 L900.1 415.8 L901.9 416.9 L903.8 418.0 L905.6 419.1 L907.5 420.2 L909.3 421.4 L911.2 422.5 L913.1 423.7 L914.9 425.0 L916.8 426.2 L918.7 427.5 L920.6 428.7 L922.4 430.1 L924.3 431.4 L926.2 432.7 L928.1 434.1 L930.0 435.5 L931.9 436.9 L933.8 438.4 L935.8 439.9 L937.7 441.4 L939.6 442.9 L941.5 444.5 L943.5 446.1 L945.4 447.7 L947.4 449.4 L949.3 451.0 L951.3 452.7 L953.2 454.5 L955.2 456.3 L957.2 458.1 L959.1 459.9 L961.1 461.8 L963.1 463.7 L965.1 465.6 L967.1 467.6 L969.1 469.6 L971.1 471.6 L973.2 473.7 L975.2 475.8 L977.2 478.0 L979.3 480.2 L981.3 482.4 L983.4 484.7 L985.4 487.0 L987.5 489.4 L989.6 491.8 L991.7 494.2 L993.8 496.7 L995.9 499.3 L998.0 501.9 L1000.1 504.5 L1002.2 507.2 L1004.3 509.9 L1006.5 512.7 L1008.6 515.5 L1010.8 518.4 L1013.0 521.3 L1015.2 524.3 L1017.3 527.3 L1019.5 530.4 L1021.8 533.6 L1024.0 536.8 L1026.2 540.0 L1028.4 543.3 L1030.7 546.7 L1032.9 550.2 L1035.2 553.7 L1037.5 557.2 L1039.8 560.9 L1042.1 564.6 L1044.4 568.3 L1046.7 572.2 L1049.1 576.1 L1051.4 580.1 L1053.8 584.1 L1056.2 588.2 L1058.6 592.4 L1061.0 596.7 L1063.4 601.1 L1065.8 605.5 L1068.3 610.0 L1070.8 614.6 L1073.2 619.3 L1075.7 624.0 L1078.2 628.9 L1080.8 633.8 L1083.3 638.8 L1085.9 643.9 L1088.4 649.2 L1091.0 654.5 L1093.6 659.9 L1096.2 665.4 L1098.9 671.0 L1101.5 676.7 L1104.2 682.5 L1106.9 688.4 L1109.6 694.4 L1112.4 700.5 L1115.1 706.7 L1117.9 713.1 L1120.7 719.6 L1123.5 726.1 L1126.3 732.8 L1129.2 739.7 L1132.0 746.6 L1134.9 753.7 L1137.9 760.9 L1140.8 768.2 L1143.8 775.7 L1146.8 783.3 L1149.8 791.0 L1152.8 798.9 L1155.9 807.0 L1159.0 815.1 L1162.1 823.5 L1165.3 831.9 L1168.4 840.6 L1171.6 849.3 L1174.9 858.3 L1178.1 867.4 L1181.4 876.7 L1184.7 886.1 L1188.1 895.7 L1191.4 905.5 L1194.8 915.5 L1198.3 925.6 L1201.8 936.0 L1205.3 946.5 L1208.8 957.2 L1212.4 968.1 L1216.0 979.2 L1219.6 990.5 L1223.3 1002.0 L1227.0 1013.8 L1230.8 1025.7 L1234.6 1037.9 L1238.4 1050.2 L1242.3 1062.8 L1246.2 1075.7 L1250.1 1088.7 L1254.1 1102.0 L1258.2 1115.6 L1262.3 1129.4 L1266.4 1143.4"/></defs><use href="#iv75" stroke="#008000" stroke-width="6.5" shape-rendering="auto"/><use href="#iv75" stroke="#008000" stroke-width="8.5" shape-rendering="crispEdges"/>
</g>
<g font-family="'Liberation Sans', Arial, Helvetica, sans-serif" font-size="58.6" fill="#000" style="font-kerning:none">
<text transform="translate(230.2,1148.0) scale(1,1.035)" text-anchor="middle">0</text>
<text transform="translate(556.2,1148.0) scale(1,1.035)" text-anchor="middle">20</text>
<text transform="translate(882.2,1148.0) scale(1,1.035)" text-anchor="middle">40</text>
<text transform="translate(1208.2,1148.0) scale(1,1.035)" text-anchor="middle">60</text>
<text transform="translate(1533.2,1148.0) scale(1,1.035)" text-anchor="middle">80</text>
<text transform="translate(224.0,1111.5) scale(1,1.035)" text-anchor="end">0</text>
<text transform="translate(224.0,937.7) scale(1,1.035)" text-anchor="end">200</text>
<text transform="translate(224.0,763.8) scale(1,1.035)" text-anchor="end">400</text>
<text transform="translate(224.0,590.0) scale(1,1.035)" text-anchor="end">600</text>
<text transform="translate(224.0,416.2) scale(1,1.035)" text-anchor="end">800</text>
<text transform="translate(224.0,242.3) scale(1,1.035)" text-anchor="end">1000</text>
<text transform="translate(224.0,68.5) scale(1,1.035)" text-anchor="end">1200</text>
<text transform="translate(1702.0,1111.9) scale(1,1.035)" text-anchor="start">0</text>
<text transform="translate(1702.0,972.8) scale(1,1.035)" text-anchor="start">4</text>
<text transform="translate(1702.0,833.8) scale(1,1.035)" text-anchor="start">8</text>
<text transform="translate(1702.0,694.7) scale(1,1.035)" text-anchor="start">12</text>
<text transform="translate(1702.0,555.6) scale(1,1.035)" text-anchor="start">16</text>
<text transform="translate(1702.0,416.6) scale(1,1.035)" text-anchor="start">20</text>
<text transform="translate(1702.0,277.5) scale(1,1.035)" text-anchor="start">24</text>
<text transform="translate(1702.0,68.9) scale(1,1.035)" text-anchor="start">30</text>
<text transform="translate(963.5,1204.0) scale(1,1.035)" text-anchor="middle">PV output Voltage(V)</text>
<text transform="translate(73.0,836.4) rotate(-90) scale(1.01,1.035)" text-anchor="start">PV output power(W)</text>
<text transform="translate(1822.2,836.4) rotate(-90) scale(1.01,1.035)" text-anchor="start">PV output current(A)</text>
</g>
<g shape-rendering="crispEdges"><rect x="1377.5" y="48.5" width="321" height="272" fill="#fff" stroke="#000" stroke-width="1"/>
<rect x="1388" y="69.25" width="61" height="8.5" fill="#0000ff"/>
<rect x="1388" y="112.95" width="61" height="8.5" fill="#993300"/>
<rect x="1388" y="157.25" width="61" height="8.5" fill="#0070c0"/>
<rect x="1388" y="201.75" width="61" height="8.5" fill="#17288b"/>
<rect x="1388" y="246.15" width="61" height="8.5" fill="#7d2f8c"/>
<rect x="1388" y="289.15" width="61" height="8.5" fill="#008000"/>
</g>
<g font-family="'Liberation Sans', Arial, Helvetica, sans-serif" font-size="35.3" fill="#000" style="font-kerning:none">
<text transform="translate(1454.0,85.7) scale(1,1.066)" text-anchor="start">P-V at 1K, 25C</text>
<text transform="translate(1454.0,129.4) scale(1,1.066)" text-anchor="start">P-V at 1K, 50C</text>
<text transform="translate(1454.0,173.7) scale(1,1.066)" text-anchor="start">P-V at 1K, 75C</text>
<text transform="translate(1454.0,218.2) scale(1,1.066)" text-anchor="start">I-V at 1K, 25C</text>
<text transform="translate(1454.0,262.6) scale(1,1.066)" text-anchor="start">I-V at 1K, 50C</text>
<text transform="translate(1454.0,305.6) scale(1,1.066)" text-anchor="start">I-V at 1K, 75C</text>
</g>
</svg>
</body></html>
